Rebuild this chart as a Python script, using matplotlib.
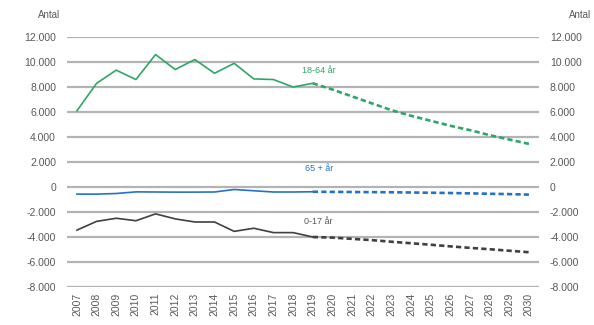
import numpy as np
import matplotlib.pyplot as plt
from matplotlib.ticker import FuncFormatter

plt.rcParams['font.family'] = ['Liberation Sans', 'DejaVu Sans']

years = [str(y) for y in range(2007, 2031)]

# historical values 2007-2019
hist_1864 = [6100, 8300, 9350, 8600, 10600, 9400, 10200, 9100, 9900, 8650, 8600, 8000, 8300]
hist_65 = [-570, -570, -520, -390, -400, -410, -410, -400, -200, -300, -400, -400, -380]
hist_017 = [-3450, -2750, -2500, -2700, -2150, -2550, -2800, -2800, -3550, -3300, -3650, -3650, -4000]

# forecast values 2019-2030
prog_1864 = [8300, 7800, 7250, 6700, 6150, 5700, 5300, 4900, 4550, 4150, 3800, 3450]
prog_65 = [-380, -390, -400, -410, -420, -440, -460, -480, -510, -540, -570, -610]
prog_017 = [-4000, -4050, -4150, -4250, -4380, -4500, -4620, -4750, -4870, -4980, -5100, -5220]

green = '#2ea766'
blue = '#2472c8'
dark = '#404040'
txt = '#595959'

fig = plt.figure(figsize=(5.94, 3.25), dpi=100)
ax = fig.add_axes([0.113, 0.117, 0.794, 0.769])

x_hist = np.arange(len(hist_1864))
x_prog = np.arange(len(hist_1864) - 1, len(years))

dash = (0, (2.0, 1.2))
ax.plot(x_hist, hist_1864, color=green, lw=1.2)
ax.plot(x_prog, prog_1864, color=green, lw=1.9, ls=dash)
ax.plot(x_hist, hist_65, color=blue, lw=1.2)
ax.plot(x_prog, prog_65, color=blue, lw=1.9, ls=dash)
ax.plot(x_hist, hist_017, color=dark, lw=1.2)
ax.plot(x_prog, prog_017, color=dark, lw=1.9, ls=dash)

ax.text(12.3, 9300, '18-64 år', color=green, fontsize=6.5, ha='center', va='center')
ax.text(12.3, 1500, '65 + år', color=blue, fontsize=6.5, ha='center', va='center')
ax.text(12.3, -2750, '0-17 år', color=txt, fontsize=6.5, ha='center', va='center')

ax.set_xlim(-0.5, len(years) - 0.5)
ax.set_ylim(-8000, 12000)
yt = np.arange(-8000, 12001, 2000)
ax.set_yticks(yt)
ax.yaxis.grid(True, color='#b3b3b3', lw=1.6)
ax.set_axisbelow(True)
fmt = FuncFormatter(lambda v, p: f'{int(v):,}'.replace(',', '.'))
ax.yaxis.set_major_formatter(fmt)
ax.set_xticks(np.arange(len(years)))
ax.set_xticklabels(years, rotation=90)
ax.tick_params(axis='both', length=0, labelsize=7.5, colors=txt, pad=8)
ax.tick_params(axis='x', pad=4)
for s in ax.spines.values():
    s.set_visible(False)

ax2 = ax.twinx()
ax2.set_ylim(ax.get_ylim())
ax2.set_yticks(yt)
ax2.yaxis.set_major_formatter(fmt)
ax2.tick_params(axis='y', length=0, labelsize=7.5, colors=txt, pad=8)
for s in ax2.spines.values():
    s.set_visible(False)

fig.text(0.064, 0.955, 'Antal', fontsize=7, color=txt, ha='left', va='center')
fig.text(0.958, 0.955, 'Antal', fontsize=7, color=txt, ha='left', va='center')

fig.savefig('out.png', dpi=100)
